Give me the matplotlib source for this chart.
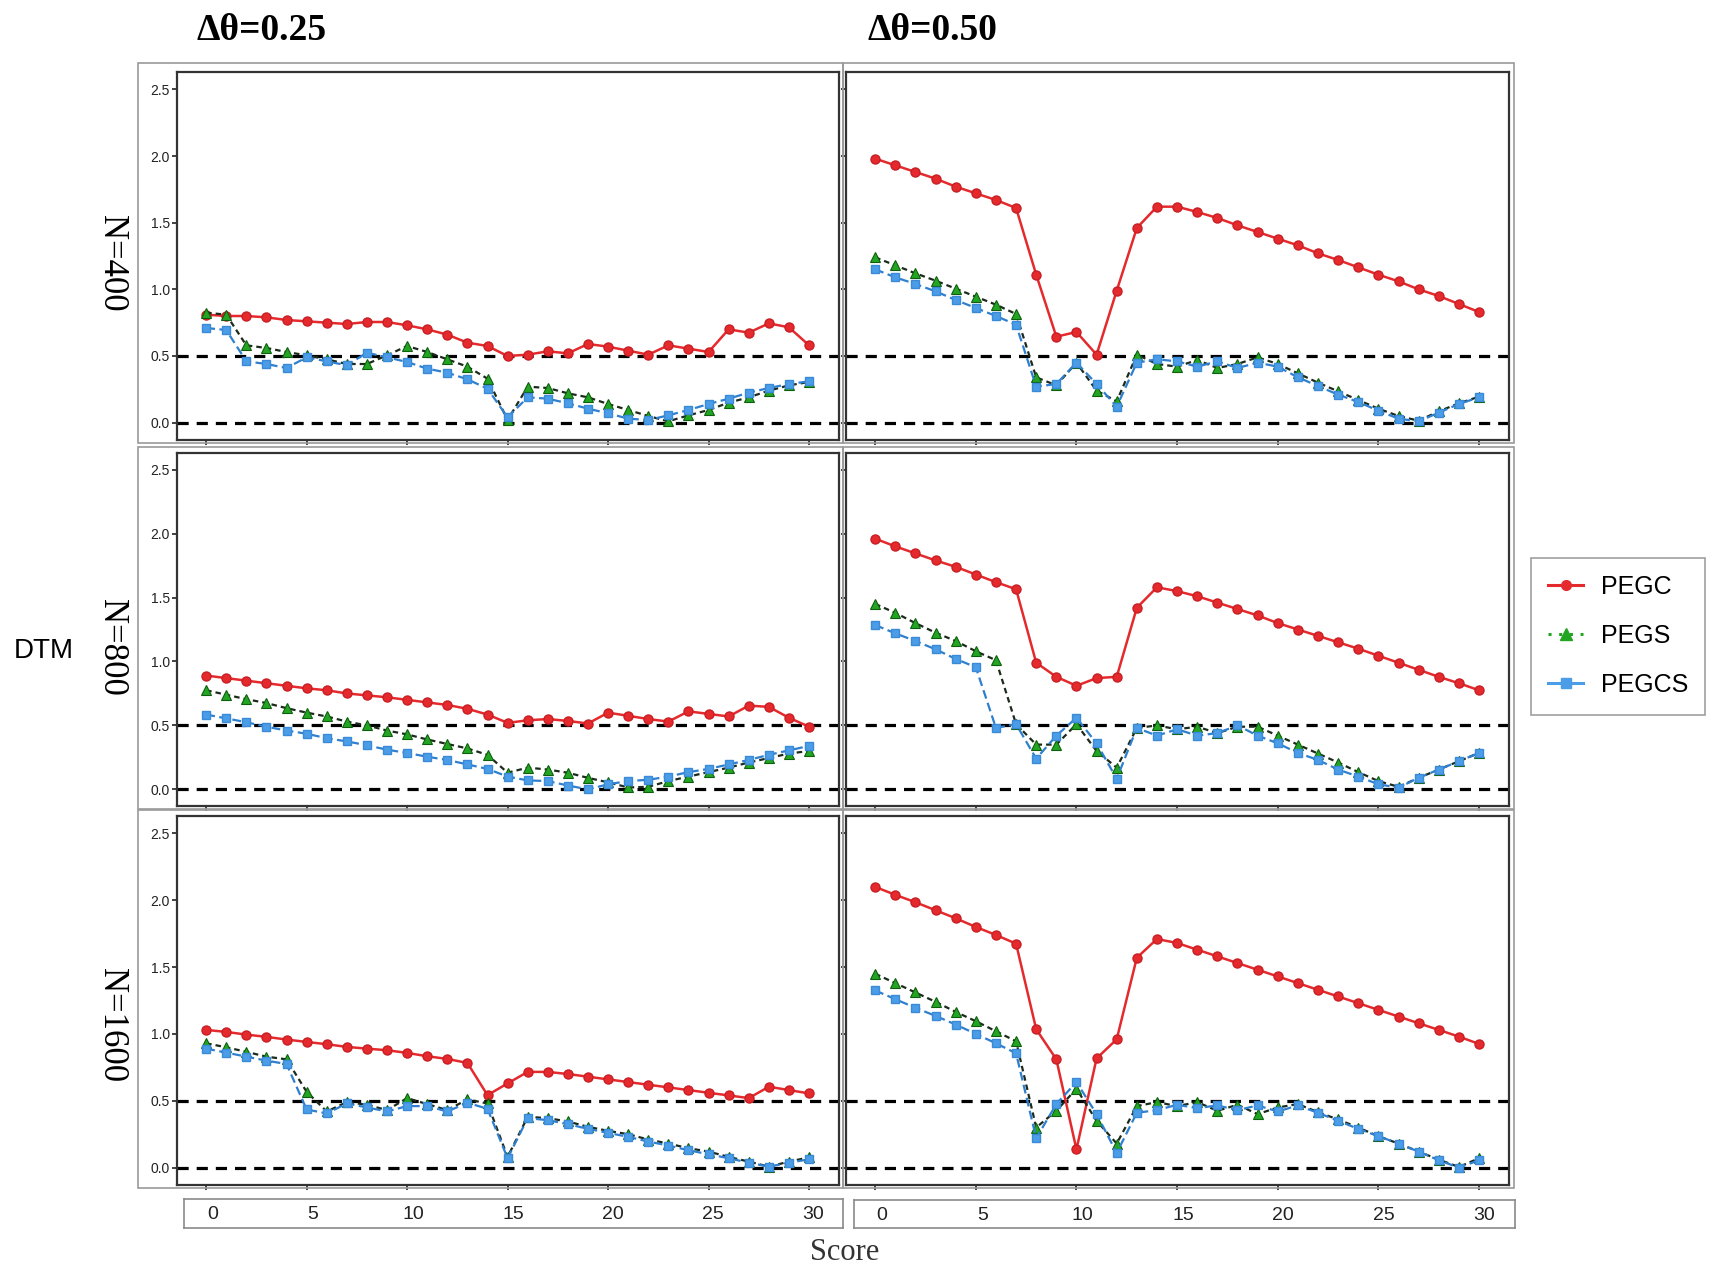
import numpy as np
import matplotlib
matplotlib.use('Agg')
import matplotlib.pyplot as plt
from matplotlib.lines import Line2D
from matplotlib.patches import Rectangle

W, H = 1713, 1272

score = np.arange(31)
xticks = [0, 5, 10, 15, 20, 25, 30]
yticks = [0.0, 0.5, 1.0, 1.5, 2.0, 2.5]
col_titles = ['\u0394\u03b8=0.25', '\u0394\u03b8=0.50']
row_labels = ['N=400', 'N=800', 'N=1600']
series_names = ['PEGC', 'PEGS', 'PEGCS']

# N=400, dtheta=0.25
pegc_400_025 = [0.81, 0.80, 0.80, 0.79, 0.77, 0.76, 0.75, 0.74, 0.755, 0.755, 0.73, 0.70, 0.66, 0.60, 0.575, 0.50,
                0.51, 0.535, 0.52, 0.59, 0.57, 0.54, 0.51, 0.58, 0.555, 0.53, 0.70, 0.675, 0.745, 0.715, 0.58]
pegs_400_025 = [0.825, 0.81, 0.58, 0.56, 0.53, 0.505, 0.475, 0.44, 0.44, 0.505, 0.575, 0.53, 0.475, 0.42, 0.33, 0.02,
                0.27, 0.26, 0.22, 0.19, 0.14, 0.095, 0.05, 0.01, 0.055, 0.095, 0.15, 0.19, 0.24, 0.28, 0.305]
pegcs_400_025 = [0.71, 0.695, 0.46, 0.44, 0.41, 0.49, 0.46, 0.43, 0.525, 0.49, 0.455, 0.405, 0.375, 0.325, 0.255, 0.04,
                 0.19, 0.18, 0.145, 0.105, 0.07, 0.03, 0.02, 0.055, 0.095, 0.14, 0.18, 0.225, 0.26, 0.29, 0.31]
# N=400, dtheta=0.50
pegc_400_050 = [1.98, 1.93, 1.88, 1.83, 1.77, 1.72, 1.67, 1.61, 1.11, 0.645, 0.68, 0.51, 0.99, 1.46, 1.62, 1.62,
                1.58, 1.535, 1.48, 1.43, 1.38, 1.33, 1.27, 1.22, 1.165, 1.11, 1.06, 1.00, 0.95, 0.89, 0.83]
pegs_400_050 = [1.24, 1.18, 1.12, 1.065, 1.005, 0.945, 0.885, 0.815, 0.34, 0.28, 0.45, 0.24, 0.16, 0.51, 0.44, 0.42,
                0.47, 0.41, 0.44, 0.49, 0.44, 0.37, 0.30, 0.235, 0.17, 0.105, 0.05, 0.015, 0.085, 0.145, 0.195]
pegcs_400_050 = [1.15, 1.09, 1.04, 0.985, 0.92, 0.86, 0.80, 0.735, 0.27, 0.29, 0.45, 0.29, 0.12, 0.45, 0.475, 0.46,
                 0.42, 0.46, 0.41, 0.45, 0.42, 0.34, 0.275, 0.21, 0.155, 0.09, 0.03, 0.01, 0.075, 0.14, 0.19]
# N=800, dtheta=0.25
pegc_800_025 = [0.89, 0.87, 0.85, 0.83, 0.81, 0.79, 0.775, 0.75, 0.735, 0.72, 0.70, 0.68, 0.66, 0.63, 0.585, 0.52,
                0.54, 0.55, 0.535, 0.515, 0.60, 0.575, 0.55, 0.53, 0.61, 0.59, 0.57, 0.655, 0.645, 0.56, 0.49]
pegs_800_025 = [0.775, 0.74, 0.705, 0.675, 0.635, 0.60, 0.57, 0.53, 0.50, 0.46, 0.43, 0.39, 0.355, 0.32, 0.27, 0.13,
                0.17, 0.155, 0.13, 0.09, 0.055, 0.015, 0.02, 0.065, 0.10, 0.135, 0.17, 0.21, 0.245, 0.28, 0.30]
pegcs_800_025 = [0.585, 0.555, 0.525, 0.49, 0.46, 0.435, 0.40, 0.375, 0.345, 0.31, 0.285, 0.255, 0.23, 0.195, 0.16, 0.10,
                 0.07, 0.065, 0.03, 0.0, 0.04, 0.065, 0.075, 0.10, 0.135, 0.16, 0.195, 0.23, 0.27, 0.305, 0.34]
# N=800, dtheta=0.50
pegc_800_050 = [1.96, 1.90, 1.845, 1.79, 1.74, 1.68, 1.62, 1.565, 0.99, 0.88, 0.81, 0.87, 0.88, 1.42, 1.58, 1.55,
                1.51, 1.46, 1.41, 1.36, 1.30, 1.25, 1.20, 1.15, 1.10, 1.045, 0.99, 0.935, 0.88, 0.83, 0.775]
pegs_800_050 = [1.45, 1.38, 1.30, 1.225, 1.16, 1.08, 1.01, 0.51, 0.35, 0.35, 0.51, 0.30, 0.17, 0.48, 0.50, 0.47,
                0.49, 0.44, 0.49, 0.49, 0.42, 0.35, 0.28, 0.21, 0.135, 0.065, 0.02, 0.09, 0.155, 0.22, 0.285]
pegcs_800_050 = [1.285, 1.22, 1.16, 1.095, 1.02, 0.955, 0.48, 0.51, 0.24, 0.42, 0.56, 0.36, 0.083, 0.48, 0.42, 0.47,
                 0.42, 0.44, 0.50, 0.42, 0.36, 0.285, 0.23, 0.155, 0.10, 0.04, 0.013, 0.09, 0.155, 0.22, 0.285]
# N=1600, dtheta=0.25
pegc_1600_025 = [1.03, 1.015, 0.995, 0.978, 0.958, 0.94, 0.923, 0.903, 0.89, 0.878, 0.858, 0.833, 0.813, 0.783, 0.542,
                 0.63, 0.716, 0.716, 0.70, 0.68, 0.66, 0.64, 0.62, 0.60, 0.58, 0.56, 0.54, 0.52, 0.605, 0.58, 0.555]
pegs_1600_025 = [0.93, 0.90, 0.866, 0.83, 0.81, 0.567, 0.42, 0.49, 0.47, 0.43, 0.52, 0.475, 0.43, 0.51, 0.48, 0.08,
                 0.38, 0.37, 0.345, 0.305, 0.275, 0.25, 0.21, 0.18, 0.145, 0.12, 0.08, 0.045, 0.007, 0.045, 0.077]
pegcs_1600_025 = [0.89, 0.86, 0.83, 0.80, 0.775, 0.435, 0.405, 0.48, 0.45, 0.42, 0.46, 0.46, 0.42, 0.485, 0.44, 0.07,
                  0.37, 0.355, 0.325, 0.29, 0.26, 0.23, 0.195, 0.165, 0.13, 0.10, 0.07, 0.037, 0.007, 0.037, 0.062]
# N=1600, dtheta=0.50
pegc_1600_050 = [2.10, 2.04, 1.985, 1.925, 1.865, 1.80, 1.74, 1.675, 1.035, 0.81, 0.136, 0.817, 0.96, 1.57, 1.71, 1.68,
                 1.63, 1.58, 1.53, 1.48, 1.43, 1.38, 1.33, 1.28, 1.23, 1.18, 1.13, 1.08, 1.03, 0.98, 0.925]
pegs_1600_050 = [1.45, 1.38, 1.31, 1.24, 1.165, 1.095, 1.02, 0.945, 0.30, 0.425, 0.59, 0.35, 0.18, 0.46, 0.49, 0.46,
                 0.49, 0.425, 0.47, 0.40, 0.45, 0.475, 0.415, 0.36, 0.30, 0.235, 0.18, 0.12, 0.06, 0.005, 0.07]
pegcs_1600_050 = [1.325, 1.26, 1.195, 1.135, 1.07, 1.0, 0.93, 0.855, 0.22, 0.475, 0.64, 0.40, 0.11, 0.41, 0.43, 0.47,
                  0.445, 0.465, 0.43, 0.465, 0.42, 0.465, 0.41, 0.35, 0.29, 0.235, 0.18, 0.12, 0.055, 0.0, 0.055]

panels = [
    [(pegc_400_025, pegs_400_025, pegcs_400_025), (pegc_400_050, pegs_400_050, pegcs_400_050)],
    [(pegc_800_025, pegs_800_025, pegcs_800_025), (pegc_800_050, pegs_800_050, pegcs_800_050)],
    [(pegc_1600_025, pegs_1600_025, pegcs_1600_025), (pegc_1600_050, pegs_1600_050, pegcs_1600_050)],
]

SERIF = ['Liberation Serif', 'DejaVu Serif']
SANS = ['Liberation Sans', 'DejaVu Sans']
RED = '#e52a2e'
GREEN = '#23a523'
BLUE = '#4a9de6'

fig = plt.figure(figsize=(W / 100, H / 100), dpi=100)


def rect(x0, y0, x1, y1):
    # pixel box (top-left origin) -> figure fraction
    return [x0 / W, 1 - y1 / H, (x1 - x0) / W, (y1 - y0) / H]


def box(x0, y0, x1, y1, color='#9a9a9a', lw=1.2):
    fig.patches.append(Rectangle((x0 / W, 1 - y1 / H), (x1 - x0) / W, (y1 - y0) / H,
                                 transform=fig.transFigure, fill=False, edgecolor=color, lw=lw))


col_x = [(177, 839), (846, 1509)]
row_y = [(72, 440), (453, 806), (816, 1185)]
outer_x = [(138, 843), (843, 1514)]
outer_y = [(63, 443), (447, 809), (810, 1188)]

for r in range(3):
    for c in range(2):
        box(outer_x[c][0], outer_y[r][0], outer_x[c][1], outer_y[r][1])
        ax = fig.add_axes(rect(col_x[c][0], row_y[r][0], col_x[c][1], row_y[r][1]))
        pegc, pegs, pegcs = panels[r][c]
        ax.axhline(0.0, color='black', lw=2.3, ls=(0, (3.5, 2.5)), zorder=1)
        ax.axhline(0.5, color='black', lw=2.3, ls=(0, (3.5, 2.5)), zorder=1)
        ax.plot(score, pegc, color=RED, lw=1.8, marker='o', ms=6.5, mfc=RED, mec='#c81e24', zorder=3)
        ax.plot(score, pegs, color='#1b2a1b', lw=1.6, ls=(0, (2.5, 1.8)), marker='^', ms=7.5,
                mfc=GREEN, mec='#0d5f0d', mew=0.8, zorder=4)
        ax.plot(score, pegcs, color='#2f7fcf', lw=1.6, ls=(0, (4, 2)), marker='s', ms=5.5,
                mfc=BLUE, mec='#3b8ad8', zorder=5)
        ax.set_xlim(-1.45, 31.49)
        ax.set_ylim(-0.13, 2.63)
        ax.set_xticks(xticks)
        ax.set_xticklabels([])
        ax.set_yticks(yticks)
        if c == 0:
            ax.set_yticklabels(['%.1f' % v for v in yticks], fontsize=10, family=SANS)
        else:
            ax.set_yticklabels([])
        ax.tick_params(direction='out', length=3.5, width=1.2, pad=1.5, colors='#222222')
        for sp in ax.spines.values():
            sp.set_color('#333333')
            sp.set_linewidth(1.6)

# tick label strips under the bottom row
strips = [((184, 1199, 843, 1228), (-1.45, 31.5)), ((854, 1200, 1515, 1228), (-1.4, 31.55))]
for (x0, y0, x1, y1), lim in strips:
    sx = fig.add_axes(rect(x0, y0, x1, y1))
    sx.set_xlim(*lim)
    sx.set_ylim(0, 1)
    sx.set_yticks([])
    sx.set_xticks([])
    for v in xticks:
        sx.text(v, 0.45, str(v), ha='center', va='center', fontsize=14, family=SANS, color='#222222')
    for sp in sx.spines.values():
        sp.set_color('#8a8a8a')
        sp.set_linewidth(1.2)

# titles and labels
fig.text(262 / W, 1 - 30 / H, col_titles[0], ha='center', va='center', fontsize=27,
         fontweight='bold', family=SERIF)
fig.text(932 / W, 1 - 30 / H, col_titles[1], ha='center', va='center', fontsize=27,
         fontweight='bold', family=SERIF)
for lab, yc in zip(row_labels, [263, 647, 1025]):
    fig.text(111 / W, 1 - yc / H, lab, ha='center', va='center', rotation=-90, fontsize=25, family=SERIF)
fig.text(44 / W, 1 - 651 / H, 'DTM', ha='center', va='center', fontsize=20, family=SANS)
fig.text(845 / W, 1 - 1252 / H, 'Score', ha='center', va='center', fontsize=22, family=SERIF, color='#333333')

handles = [
    Line2D([], [], color=RED, lw=2.2, marker='o', ms=7, mfc=RED, mec=RED),
    Line2D([], [], color=GREEN, lw=2.2, ls=(0, (1, 2.5)), marker='^', ms=9, mfc=GREEN, mec=GREEN),
    Line2D([], [], color=BLUE, lw=2.2, marker='s', ms=7, mfc=BLUE, mec=BLUE),
]
leg = fig.legend(handles, series_names, loc='center', bbox_to_anchor=(1618 / W, 1 - 636 / H),
                 frameon=True, fancybox=False, edgecolor='#888888',
                 handlelength=1.4, handletextpad=0.7, labelspacing=1.0, borderpad=0.7,
                 prop={'family': SANS, 'size': 18})
leg.get_frame().set_linewidth(1.2)

fig.savefig('out.png', dpi=100, facecolor='white')
